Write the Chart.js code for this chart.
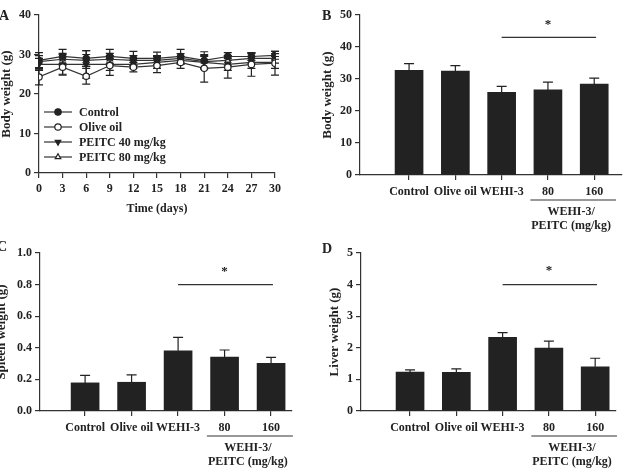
<!DOCTYPE html>
<html>
<head>
<meta charset="utf-8">
<script src="https://cdn.jsdelivr.net/npm/chart.js@4.4.1/dist/chart.umd.min.js"></script>
<style>
  body { margin: 0; background: #fff; width: 641px; height: 471px; overflow: hidden; position: relative; }
  canvas { position: absolute; }
</style>
</head>
<body>
<canvas id="chartA" width="320" height="235" style="left:0;top:0"></canvas>
<canvas id="chartB" width="321" height="235" style="left:320px;top:0"></canvas>
<canvas id="chartC" width="328" height="236" style="left:-8px;top:235px"></canvas>
<canvas id="chartD" width="321" height="236" style="left:320px;top:235px"></canvas>
<script>
// ---- data ----
const days = [0, 3, 6, 9, 12, 15, 18, 21, 24, 27, 30];
const controlBW  = [28.5, 29.5, 29.0, 29.5, 29.0, 29.0, 29.5, 28.5, 29.5, 29.5, 29.8];
const controlSD  = [2.0, 1.8, 2.0, 1.8, 1.8, 1.6, 1.8, 2.2, 1.0, 1.0, 1.0];
const oliveBW    = [24.3, 26.8, 24.5, 27.2, 26.8, 27.2, 28.0, 26.5, 26.8, 27.5, 27.8];
const oliveSD    = [2.0, 2.0, 2.0, 2.5, 1.2, 1.8, 1.5, 3.5, 2.8, 3.0, 3.0];
const peitc40BW  = [27.5, 27.5, 27.5, 27.5, 27.5, 28.0, 28.5, 28.0, 27.5, 28.0, 28.0];
const peitc40SD  = [1.5, 2.5, 3.5, 1.5, 1.0, 1.5, 1.0, 1.5, 1.5, 1.5, 1.5];
const peitc80BW  = [28.2, 28.8, 28.5, 28.8, 28.5, 28.5, 29.0, 28.2, 28.5, 29.0, 29.0];
const peitc80SD  = [1.5, 1.5, 1.5, 1.5, 1.2, 1.2, 1.2, 1.5, 1.2, 1.2, 1.2];

const groups       = ['Control', 'Olive oil', 'WEHI-3', '80', '160'];
const bodyWeight   = [32.7, 32.5, 25.8, 26.6, 28.4];
const bodyWeightSD = [2.1, 1.7, 1.9, 2.4, 1.9];
const spleenWeight = [0.178, 0.182, 0.381, 0.341, 0.301];
const spleenSD     = [0.047, 0.047, 0.085, 0.045, 0.038];
const liverWeight  = [1.23, 1.22, 2.33, 1.99, 1.40];
const liverSD      = [0.07, 0.11, 0.15, 0.22, 0.27];

const INK = '#222';
const SERIF = '"Liberation Serif", "Times New Roman", serif';

// ---- plugins ----
const errorBars = {
  id: 'errorBars',
  beforeDatasetsDraw(chart, args, opts) {
    const { ctx, scales: { x, y } } = chart;
    ctx.save();
    ctx.strokeStyle = INK;
    ctx.lineWidth = 1.2;
    chart.data.datasets.forEach(ds => {
      if (!ds.errors) return;
      ds.data.forEach((p, j) => {
        const px = x.getPixelForValue(p.x);
        const top = y.getPixelForValue(p.y + ds.errors[j]);
        const bot = y.getPixelForValue(opts.upperOnly ? p.y : p.y - ds.errors[j]);
        const cap = opts.cap || 4;
        ctx.beginPath();
        ctx.moveTo(px, top); ctx.lineTo(px, bot);
        ctx.moveTo(px - cap, top); ctx.lineTo(px + cap, top);
        if (!opts.upperOnly) { ctx.moveTo(px - cap, bot); ctx.lineTo(px + cap, bot); }
        ctx.stroke();
      });
    });
    ctx.restore();
  }
};

const annot = {
  id: 'annot',
  afterDraw(chart, args, o) {
    const { ctx, chartArea, scales: { x, y } } = chart;
    ctx.save();
    ctx.fillStyle = INK;
    ctx.strokeStyle = '#333';
    ctx.lineWidth = 1.2;
    if (o.letter) {
      ctx.font = 'bold 14px ' + SERIF;
      ctx.textAlign = 'left';
      ctx.textBaseline = 'middle';
      ctx.fillText(o.letter.text, o.letter.x, o.letter.y);
    }
    if (o.sig) {
      const ly = y.getPixelForValue(o.sig.y);
      ctx.beginPath();
      ctx.moveTo(x.getPixelForValue(o.sig.from), ly);
      ctx.lineTo(x.getPixelForValue(o.sig.to), ly);
      ctx.stroke();
      ctx.font = 'bold 13px ' + SERIF;
      ctx.textAlign = 'center';
      ctx.textBaseline = 'middle';
      ctx.fillText('*', x.getPixelForValue(o.sig.starAt), y.getPixelForValue(o.sig.star));
    }
    if (o.group) {
      const gy = chartArea.bottom + 25;
      ctx.beginPath();
      ctx.moveTo(x.getPixelForValue(o.group.from), gy);
      ctx.lineTo(x.getPixelForValue(o.group.to), gy);
      ctx.stroke();
      const cx = (x.getPixelForValue(3) + x.getPixelForValue(4)) / 2;
      ctx.font = 'bold 12px ' + SERIF;
      ctx.textAlign = 'center';
      ctx.textBaseline = 'middle';
      ctx.fillText('WEHI-3/', cx, chartArea.bottom + 37);
      ctx.fillText('PEITC (mg/kg)', cx, chartArea.bottom + 51);
    }
    if (o.legend) {
      ctx.font = 'bold 12px ' + SERIF;
      ctx.textAlign = 'left';
      ctx.textBaseline = 'middle';
      chart.data.datasets.forEach((ds, i) => {
        const ry = o.legend.y + i * o.legend.gap;
        ctx.beginPath();
        ctx.moveTo(o.legend.x, ry);
        ctx.lineTo(o.legend.x + 28, ry);
        ctx.stroke();
        ctx.fillStyle = ds.pointBackgroundColor;
        ctx.strokeStyle = INK;
        Chart.helpers.drawPoint(ctx, {
          pointStyle: ds.pointStyle, radius: ds.pointRadius,
          rotation: ds.pointRotation || 0, borderWidth: 1.2
        }, o.legend.x + 14, ry);
        ctx.fillStyle = INK;
        ctx.strokeStyle = '#333';
        ctx.fillText(ds.label, o.legend.x + 35, ry + 1);
      });
    }
    ctx.restore();
  }
};

// ---- shared scale builders ----
function yScale(max, step, title, width, titlePad, fmt) {
  return {
    type: 'linear', min: 0, max: max,
    afterFit: s => { s.width = width; },
    border: { display: true, color: '#333', width: 1.2 },
    grid: { drawOnChartArea: false, drawTicks: true, tickLength: 5, color: '#333', lineWidth: 1.2 },
    ticks: { stepSize: step, padding: 3, color: INK, font: { family: SERIF, weight: 'bold', size: 12 },
             callback: fmt || (v => v) },
    title: { display: true, text: title, color: INK, padding: { top: titlePad, bottom: 0 },
             font: { family: SERIF, weight: 'bold', size: 13, lineHeight: 1 } }
  };
}

function groupX(min, max) {
  return {
    type: 'linear', min: min, max: max,
    offset: false,
    afterFit: s => { s.height = 60; },
    afterBuildTicks: s => { s.ticks = groups.map((g, i) => ({ value: i })); },
    border: { display: true, color: '#333', width: 1.2 },
    grid: { offset: false, drawOnChartArea: false, drawTicks: true, tickLength: 5, color: '#333', lineWidth: 1.2 },
    ticks: { autoSkip: false, maxRotation: 0, padding: 5, color: INK,
             font: { family: SERIF, weight: 'bold', size: 12 },
             callback: v => groups[v] }
  };
}

function barChart(id, values, sd, yMax, yStep, yTitle, yWidth, titlePad, fmt, xMin, xMax, pad, sig, letter) {
  return new Chart(document.getElementById(id), {
    type: 'bar',
    data: {
      datasets: [{
        data: values.map((v, i) => ({ x: i, y: v })),
        errors: sd,
        backgroundColor: INK,
        barThickness: 28
      }]
    },
    options: {
      responsive: false,
      animation: false,
      layout: { padding: pad },
      plugins: {
        legend: { display: false },
        tooltip: { enabled: false },
        errorBars: { upperOnly: true, cap: 5 },
        annot: { sig: sig, group: { from: 2.62, to: 4.47 }, letter: letter }
      },
      scales: {
        x: groupX(xMin, xMax),
        y: yScale(yMax, yStep, yTitle, yWidth, titlePad, fmt)
      }
    },
    plugins: [errorBars, annot]
  });
}

// ---- A: body weight over time ----
function series(label, vals, sd, style, fill, rot) {
  return {
    label: label,
    data: days.map((d, i) => ({ x: d, y: vals[i] })),
    errors: sd,
    borderColor: '#333',
    borderWidth: 1.2,
    pointStyle: style,
    pointRotation: rot || 0,
    pointRadius: 3.2,
    pointBackgroundColor: fill,
    pointBorderColor: INK,
    pointBorderWidth: 1.2,
    tension: 0
  };
}

new Chart(document.getElementById('chartA'), {
  type: 'line',
  data: {
    datasets: [
      series('Control', controlBW, controlSD, 'circle', INK),
      series('Olive oil', oliveBW, oliveSD, 'circle', '#fff'),
      series('PEITC 40 mg/kg', peitc40BW, peitc40SD, 'triangle', INK, 180),
      series('PEITC 80 mg/kg', peitc80BW, peitc80SD, 'triangle', '#fff')
    ]
  },
  options: {
    responsive: false,
    animation: false,
    layout: { padding: { left: 0, top: 15, right: 45, bottom: 20 } },
    plugins: {
      legend: { display: false },
      tooltip: { enabled: false },
      errorBars: { upperOnly: false, cap: 4 },
      annot: { legend: { x: 44, y: 112, gap: 15 }, letter: { text: 'A', x: -1, y: 16 } }
    },
    scales: {
      x: {
        type: 'linear', min: 0, max: 30,
        afterFit: s => { s.height = 42; },
        border: { display: true, color: '#333', width: 1.2 },
        grid: { drawOnChartArea: false, drawTicks: true, tickLength: 5, color: '#333', lineWidth: 1.2 },
        ticks: { stepSize: 3, padding: 4, color: INK, font: { family: SERIF, weight: 'bold', size: 12 } },
        title: { display: true, text: 'Time (days)', color: INK, padding: { top: 0, bottom: 0 },
                 font: { family: SERIF, weight: 'bold', size: 12, lineHeight: 1 } }
      },
      y: yScale(40, 10, 'Body weight (g)', 39, 0)
    }
  },
  plugins: [errorBars, annot]
});

// ---- B, C, D: organ / body weight bars ----
barChart('chartB', bodyWeight, bodyWeightSD, 50, 10, 'Body weight (g)', 40, 1.5, null,
  -1.06, 4.6, { left: 0, top: 15, right: 19, bottom: 0 },
  { from: 2, to: 4.04, y: 43, starAt: 3, star: 47 },
  { text: 'B', x: 2, y: 16 });

barChart('chartC', spleenWeight, spleenSD, 1.0, 0.2, 'Spleen weight (g)', 48, 3, v => v.toFixed(1),
  -0.97, 4.45, { left: 0, top: 18, right: 28, bottom: 0 },
  { from: 2, to: 4.04, y: 0.8, starAt: 3, star: 0.88 },
  { text: 'C', x: 5, y: 12 });

barChart('chartD', liverWeight, liverSD, 5, 1, 'Liver weight (g)', 41, 8.5, null,
  -1.06, 4.45, { left: 0, top: 18, right: 25, bottom: 0 },
  { from: 2, to: 4.04, y: 4.0, starAt: 3, star: 4.44 },
  { text: 'D', x: 2, y: 14 });
</script>
</body>
</html>
